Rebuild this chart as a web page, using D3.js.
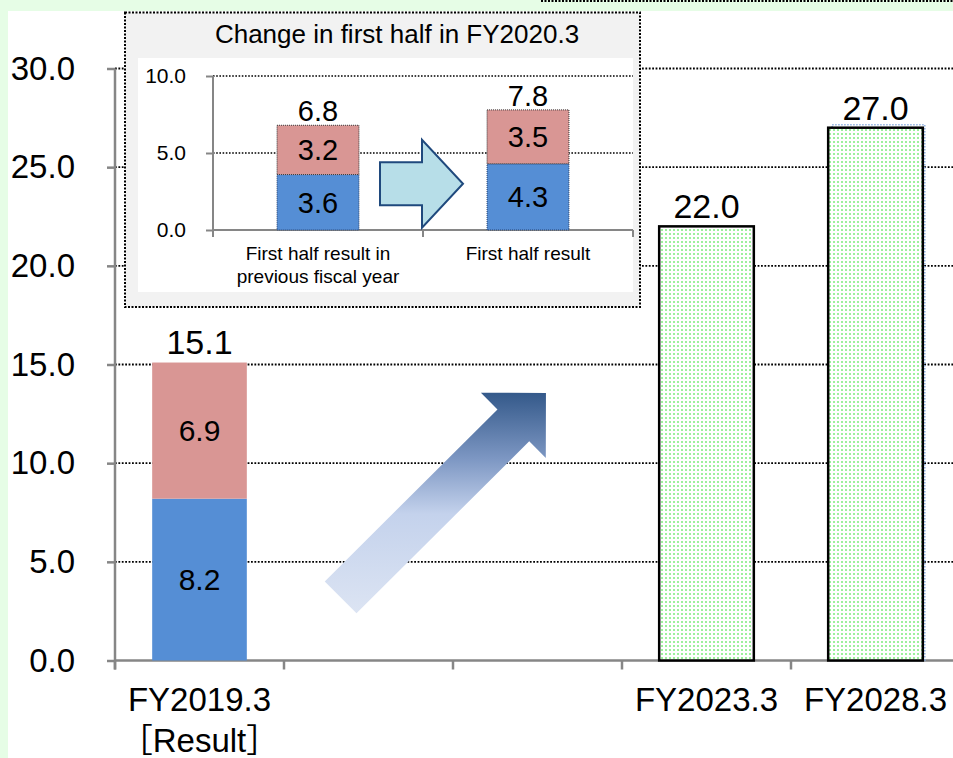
<!DOCTYPE html>
<html>
<head>
<meta charset="utf-8">
<script src="https://cdn.jsdelivr.net/npm/d3@7"></script>
<style>
  body { margin: 0; background: #fff; }
  svg { display: block; font-family: "Liberation Sans", Arial, "Noto Sans CJK JP", sans-serif; }
</style>
</head>
<body>
<svg id="chart" width="953" height="758"></svg>
<script>
// ---- main chart data ----
const categories = ["FY2019.3", "gap1", "gap2", "FY2023.3", "FY2028.3"];
const categoryLabels = [["FY2019.3", "［Result］"], [], [], ["FY2023.3"], ["FY2028.3"]];
const yTicks = [0, 5, 10, 15, 20, 25, 30];

const resultCategories = ["FY2019.3"];
const resultLower = [8.2];
const resultUpper = [6.9];
const resultTotals = [15.1];

const targetCategories = ["FY2023.3", "FY2028.3"];
const targetValues = [22.0, 27.0];

// ---- inset data ----
const insetTitle = "Change in first half in FY2020.3";
const insetCategories = ["previous", "current"];
const insetLabels = [["First half result in", "previous fiscal year"], ["First half result"]];
const insetLower = [3.6, 4.3];
const insetUpper = [3.2, 3.5];
const insetTotals = [6.8, 7.8];
const insetTicks = [0, 5, 10];

const BLUE = "#558ed5", PINK = "#d99694", AXIS = "#868686";
const fmt = d3.format(".1f");

const svg = d3.select("#chart");
const defs = svg.append("defs");

// dotted green fill for the target bars
const pat = defs.append("pattern").attr("id", "dots")
  .attr("patternUnits", "userSpaceOnUse").attr("width", 4).attr("height", 4);
pat.append("rect").attr("width", 4).attr("height", 4).attr("fill", "#fff");
pat.append("rect").attr("x", 1).attr("y", 1).attr("width", 2).attr("height", 2).attr("fill", "#9cf09c");

// gradient for the growth arrow
const grad = defs.append("linearGradient").attr("id", "growGrad")
  .attr("x1", 0).attr("y1", 0).attr("x2", 0).attr("y2", 1);
[[0, "#34598a"], [0.3, "#7d97c3"], [0.55, "#c4d2ec"], [1, "#dce4f3"]].forEach(([o, c]) =>
  grad.append("stop").attr("offset", o).attr("stop-color", c));

// page background and white panel
svg.append("rect").attr("width", 953).attr("height", 758).attr("fill", "#e6fde6");
svg.append("rect").attr("x", 8).attr("y", 11).attr("width", 945).attr("height", 747).attr("fill", "#fff");
svg.append("line").attr("x1", 541).attr("x2", 953).attr("y1", 1).attr("y2", 1)
  .attr("stroke", "#000").attr("stroke-width", 2).attr("stroke-dasharray", "2,1.5");

// ---- scales ----
const y = d3.scaleLinear().domain([0, 30]).range([660.5, 68.5]);
const x = d3.scaleBand().domain(categories).range([115, 960]).padding(0);
const barW = x.bandwidth() * 0.56;
const cx = c => x(c) + x.bandwidth() / 2;

// gridlines
svg.append("g").selectAll("line").data(yTicks.filter(t => t > 0)).join("line")
  .attr("x1", 115).attr("x2", 953).attr("y1", d => y(d)).attr("y2", d => y(d))
  .attr("stroke", "#000").attr("stroke-width", 1.8).attr("stroke-dasharray", "1.8,1.6");

// y axis
const yAxis = svg.append("g").attr("transform", "translate(115,0)")
  .call(d3.axisLeft(y).tickValues(yTicks).tickSize(8).tickSizeOuter(0).tickPadding(32).tickFormat(fmt));
yAxis.select(".domain").remove();
yAxis.selectAll(".tick line").attr("stroke", AXIS).attr("stroke-width", 2.5);
yAxis.selectAll(".tick text").attr("font-size", 33).attr("fill", "#000").attr("font-family", "inherit");
svg.append("line").attr("x1", 115).attr("x2", 115).attr("y1", y(30)).attr("y2", y(0) + 9)
  .attr("stroke", AXIS).attr("stroke-width", 2.5);

// x axis
svg.append("line").attr("x1", 115).attr("x2", 953).attr("y1", y(0)).attr("y2", y(0))
  .attr("stroke", AXIS).attr("stroke-width", 2.5);
const bounds = categories.map(c => x(c)).concat([x.range()[1]]);
svg.append("g").selectAll("line").data(bounds).join("line")
  .attr("x1", d => d).attr("x2", d => d).attr("y1", y(0)).attr("y2", y(0) + 9)
  .attr("stroke", AXIS).attr("stroke-width", 2.5);
categories.forEach((c, i) => {
  categoryLabels[i].forEach((t, j) => {
    svg.append("text").attr("x", cx(c)).attr("y", 711 + j * 41)
      .attr("text-anchor", "middle").attr("font-size", 33).attr("fill", "#000").text(t);
  });
});

// growth arrow (block arrow drawn along a direction)
function blockArrow(x0, y0, x1, y1, shaftW, headW, headL) {
  const dx = x1 - x0, dy = y1 - y0, L = Math.hypot(dx, dy);
  const ux = dx / L, uy = dy / L, nx = -uy, ny = ux;
  const p = (a, b) => [x0 + ux * a + nx * b, y0 + uy * a + ny * b];
  const pts = [p(0, -shaftW / 2), p(L - headL, -shaftW / 2), p(L - headL, -headW / 2), p(L, 0),
               p(L - headL, headW / 2), p(L - headL, shaftW / 2), p(0, shaftW / 2)];
  return "M" + pts.map(q => q.join(",")).join("L") + "Z";
}
svg.append("path")
  .attr("d", blockArrow(x("gap1") + x.bandwidth() * 0.335, y(3.2), x("gap2") + x.bandwidth() * 0.55, y(13.56), 45, 92, 46))
  .attr("fill", "url(#growGrad)");

// result bar (stacked)
resultCategories.forEach((c, i) => {
  const x0 = cx(c) - barW / 2;
  svg.append("rect").attr("x", x0).attr("width", barW)
    .attr("y", y(resultLower[i])).attr("height", y(0) - y(resultLower[i])).attr("fill", BLUE);
  svg.append("rect").attr("x", x0).attr("width", barW)
    .attr("y", y(resultLower[i] + resultUpper[i])).attr("height", y(resultLower[i]) - y(resultLower[i] + resultUpper[i]))
    .attr("fill", PINK);
  svg.append("text").attr("x", cx(c)).attr("y", (y(0) + y(resultLower[i])) / 2).attr("dy", "0.36em")
    .attr("text-anchor", "middle").attr("font-size", 30).text(fmt(resultLower[i]));
  svg.append("text").attr("x", cx(c)).attr("y", (y(resultLower[i]) + y(resultTotals[i])) / 2).attr("dy", "0.36em")
    .attr("text-anchor", "middle").attr("font-size", 30).text(fmt(resultUpper[i]));
  svg.append("text").attr("x", cx(c)).attr("y", y(resultTotals[i]) - 9)
    .attr("text-anchor", "middle").attr("font-size", 34).text(fmt(resultTotals[i]));
});

// target bars
targetCategories.forEach((c, i) => {
  const x0 = cx(c) - barW / 2;
  if (i === 1) {
    svg.append("rect").attr("x", x0 + 4).attr("y", y(targetValues[i]) - 3)
      .attr("width", barW - 2).attr("height", y(0) - y(targetValues[i]) + 3)
      .attr("fill", "none").attr("stroke", "#8fb1e0").attr("stroke-width", 1.5).attr("stroke-dasharray", "1.5,1.5");
  }
  svg.append("rect").attr("x", x0).attr("width", barW)
    .attr("y", y(targetValues[i])).attr("height", y(0) - y(targetValues[i]))
    .attr("fill", "url(#dots)").attr("stroke", "#000").attr("stroke-width", 2.5);
  svg.append("text").attr("x", cx(c)).attr("y", y(targetValues[i]) - 8)
    .attr("text-anchor", "middle").attr("font-size", 34).text(fmt(targetValues[i]));
});

// ---- inset panel ----
const inset = svg.append("g");
inset.append("rect").attr("x", 125).attr("y", 12.5).attr("width", 515).attr("height", 294.5)
  .attr("fill", "#f2f2f2").attr("stroke", "#000").attr("stroke-width", 2).attr("stroke-dasharray", "2,1.5");
inset.append("rect").attr("x", 138).attr("y", 58).attr("width", 495).attr("height", 234).attr("fill", "#fff");
inset.append("text").attr("x", 397).attr("y", 43).attr("text-anchor", "middle")
  .attr("font-size", 26).text(insetTitle);

const yi = d3.scaleLinear().domain([0, 10]).range([230, 76]);
const xi = d3.scaleBand().domain(insetCategories).range([213, 633]).padding(0);
const ibw = xi.bandwidth() * 0.39;
const icx = c => xi(c) + xi.bandwidth() / 2;

inset.append("g").selectAll("line").data(insetTicks.filter(t => t > 0)).join("line")
  .attr("x1", 213).attr("x2", 633).attr("y1", d => yi(d)).attr("y2", d => yi(d))
  .attr("stroke", "#000").attr("stroke-width", 1.6).attr("stroke-dasharray", "1.6,1.6");

const iyAxis = inset.append("g").attr("transform", "translate(213,0)")
  .call(d3.axisLeft(yi).tickValues(insetTicks).tickSize(7).tickSizeOuter(0).tickPadding(20).tickFormat(fmt));
iyAxis.select(".domain").remove();
iyAxis.selectAll(".tick line").attr("stroke", AXIS).attr("stroke-width", 2);
iyAxis.selectAll(".tick text").attr("font-size", 21).attr("fill", "#000").attr("font-family", "inherit");
inset.append("line").attr("x1", 213).attr("x2", 213).attr("y1", yi(10)).attr("y2", yi(0) + 7)
  .attr("stroke", AXIS).attr("stroke-width", 2);
inset.append("line").attr("x1", 213).attr("x2", 633).attr("y1", yi(0)).attr("y2", yi(0))
  .attr("stroke", AXIS).attr("stroke-width", 2);
const ibounds = insetCategories.map(c => xi(c)).concat([xi.range()[1]]);
inset.append("g").selectAll("line").data(ibounds).join("line")
  .attr("x1", d => d).attr("x2", d => d).attr("y1", yi(0)).attr("y2", yi(0) + 7)
  .attr("stroke", AXIS).attr("stroke-width", 2);

insetCategories.forEach((c, i) => {
  const x0 = icx(c) - ibw / 2;
  inset.append("rect").attr("x", x0).attr("width", ibw)
    .attr("y", yi(insetLower[i])).attr("height", yi(0) - yi(insetLower[i]))
    .attr("fill", BLUE).attr("stroke", "#243f6b").attr("stroke-width", 1).attr("stroke-dasharray", "1,1");
  inset.append("rect").attr("x", x0).attr("width", ibw)
    .attr("y", yi(insetLower[i] + insetUpper[i])).attr("height", yi(insetLower[i]) - yi(insetLower[i] + insetUpper[i]))
    .attr("fill", PINK).attr("stroke", "#333").attr("stroke-width", 1).attr("stroke-dasharray", "1,1");
  inset.append("text").attr("x", icx(c)).attr("y", (yi(0) + yi(insetLower[i])) / 2).attr("dy", "0.36em")
    .attr("text-anchor", "middle").attr("font-size", 29).text(fmt(insetLower[i]));
  inset.append("text").attr("x", icx(c)).attr("y", (yi(insetLower[i]) + yi(insetTotals[i])) / 2).attr("dy", "0.36em")
    .attr("text-anchor", "middle").attr("font-size", 29).text(fmt(insetUpper[i]));
  inset.append("text").attr("x", icx(c)).attr("y", yi(insetTotals[i]) - 4)
    .attr("text-anchor", "middle").attr("font-size", 29).text(fmt(insetTotals[i]));
  insetLabels[i].forEach((t, j) => {
    inset.append("text").attr("x", icx(c)).attr("y", 260 + j * 23)
      .attr("text-anchor", "middle").attr("font-size", 19).text(t);
  });
});

// change arrow between the two inset bars
const mid = xi(insetCategories[1]);
inset.append("path")
  .attr("d", blockArrow(mid - 43, yi(3.0), mid + 40, yi(3.0), 43, 88, 41))
  .attr("fill", "#b7dee8").attr("stroke", "#1f497d").attr("stroke-width", 2);
</script>
</body>
</html>
